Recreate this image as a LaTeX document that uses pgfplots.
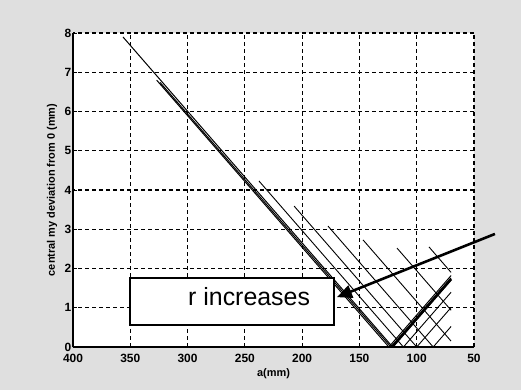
\documentclass[border=0pt]{standalone}
\usepackage{fontspec}
\setmainfont{Liberation Sans}
\usepackage{pgfplots}
\pgfplotsset{compat=1.18}
\usetikzlibrary{arrows.meta}
\begin{document}
\begin{tikzpicture}
\fill[gray!25] (-73bp,-43bp) rectangle (448bp,347bp);
\begin{axis}[
 at={(0,0)}, anchor=south west,
 scale only axis, width=401bp, height=314bp,
 x dir=reverse, xmin=50, xmax=400, ymin=0, ymax=8,
 xtick={50,100,...,400}, ytick={0,1,...,8},
 axis x line*=bottom, axis y line*=left,
 axis line style={line width=1.4pt,-},
 grid=major,
 major grid style={black, line width=1.2pt, dash pattern=on 4bp off 3bp},
 tick align=inside, major tick length=4bp, tick style={black, line width=1pt},
 axis background/.style={fill=white},
 clip=false,
 /pgf/number format/assume math mode=true,
 ticklabel style={font=\bfseries\fontsize{12}{13}\selectfont, inner sep=1bp},
 xticklabel style={yshift=-5.5bp},
 yticklabel style={xshift=-0.5bp},
 xlabel={a(mm)}, ylabel={central my deviation from 0 (mm)},
 label style={font=\bfseries\fontsize{11}{12}\selectfont},
 xlabel style={at={(axis description cs:0.5,-0.085)}, anchor=center},
 ylabel style={at={(axis description cs:-0.052,0.5)}, anchor=center},
]
% bundle
\addplot[black, line width=1bp] coordinates {(356.4,7.9) (121,0) (70,1.71)};
\addplot[black, line width=1bp] coordinates {(327,6.80) (124.3,0) (70,1.82)};
\addplot[black, line width=1bp] coordinates {(324,6.74) (122.5,0) (70,1.76)};
\addplot[black, line width=2.6bp] coordinates {(121.5,0) (70,1.73)};
% outer descending lines
\addplot[black, line width=0.9bp] coordinates {(237.7,4.23) (111.6,0) (70,1.395)};
\addplot[black, line width=0.9bp] coordinates {(207,3.59) (100,0) (70,1.006)};
\addplot[black, line width=0.9bp] coordinates {(177.4,3.08) (85.6,0) (70,0.523)};
\addplot[black, line width=0.9bp] coordinates {(146.9,2.73) (70,0.15)};
\addplot[black, line width=0.9bp] coordinates {(117.2,2.52) (70,0.937)};
\addplot[black, line width=0.9bp] coordinates {(89.3,2.55) (70,1.90)};
% annotation
\node[draw, line width=2.5bp, fill=white, minimum width=204bp, minimum height=47bp, inner sep=0pt] at (axis cs:261.2,1.16) {};
\node[anchor=base west, inner sep=0pt, font=\fontsize{25}{30}\selectfont] at (axis cs:299.6,1.07) {r increases};
\draw[line width=2.6bp, -{Triangle[length=15bp,width=13bp]}] (axis cs:31.7,2.88) -- (axis cs:169.6,1.27);
\end{axis}
\end{tikzpicture}
\end{document}
